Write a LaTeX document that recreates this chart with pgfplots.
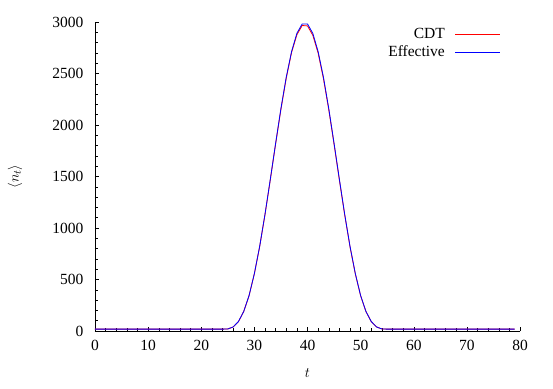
\documentclass[border=0pt]{standalone}
\usepackage{fontspec}
\setmainfont{Liberation Serif}
\usepackage{pgfplots}
\pgfplotsset{compat=1.18}

\begin{document}
\begin{tikzpicture}
\begin{axis}[
    name=ax,
    scale only axis,
    width=425pt, height=309pt,
    xmin=0, xmax=80, ymin=0, ymax=3000,
    axis x line=bottom, axis y line=left,
    axis line style={-, line width=0.6pt},
    xtick={0,10,...,80}, ytick={0,500,...,3000},
    minor x tick num=4, minor y tick num=4,
    tick align=inside,
    tick style={black, line width=0.5pt},
    /pgf/number format/assume math mode=true,
    /pgf/number format/set thousands separator={},
    tick label style={font=\fontsize{15.5}{17}\selectfont},
    yticklabel style={xshift=-8pt},
    xticklabel style={yshift=-6pt},
    label style={font=\fontsize{15.5}{17}\selectfont},
    xlabel={$t$}, ylabel={$\langle n_t\rangle$},
    xlabel style={at={(axis description cs:0.5,-0.136)}, anchor=center},
    ylabel style={at={(axis description cs:-0.188,0.5)}, anchor=center},
    legend style={draw=none, fill=none, at={(axis description cs:0.962,0.992)}, anchor=north east,
        font=\fontsize{15.5}{17}\selectfont, row sep=1.5pt, column sep=8pt},
    legend cell align=right,
    legend plot pos=right,
]
% CDT measurement
\addplot[red, line width=0.8pt,
    legend image code/.code={\draw[red, line width=0.8pt] (0pt,0pt) -- (45pt,0pt);}] coordinates {
(0,18)(1,18)(2,18)(3,18)(4,18)(5,18)(6,18)(7,18)(8,18)(9,18)
(10,18)(11,18)(12,18)(13,18)(14,18)(15,18)(16,18)(17,18)(18,18)(19,18)
(20,18)(21,18)(22,18)(23,18)(24,18)(25,20)(26,39)(27,91)(28,190)(29,343)
(30,556)(31,820)(32,1130)(33,1468)(34,1816)(35,2152)(36,2455)(37,2704)(38,2876)(39,2966)
(40,2962)(41,2871)(42,2698)(43,2450)(44,2149)(45,1812)(46,1465)(47,1127)(48,818)(49,554)
(50,342)(51,189)(52,91)(53,39)(54,20)(55,18)(56,18)(57,18)(58,18)(59,18)
(60,18)(61,18)(62,18)(63,18)(64,18)(65,18)(66,18)(67,18)(68,18)(69,18)
(70,18)(71,18)(72,18)(73,18)(74,18)(75,18)(76,18)(77,18)(78,18)(79,18)
};
\addlegendentry{CDT}
% effective model
\addplot[blue, line width=0.8pt,
    legend image code/.code={\draw[blue, line width=0.8pt] (0pt,0pt) -- (45pt,0pt);}] coordinates {
(0,18)(1,18)(2,18)(3,18)(4,18)(5,18)(6,18)(7,18)(8,18)(9,18)
(10,18)(11,18)(12,18)(13,18)(14,18)(15,18)(16,18)(17,18)(18,18)(19,18)
(20,18)(21,18)(22,18)(23,18)(24,18)(25,20)(26,39)(27,92)(28,190)(29,344)
(30,558)(31,823)(32,1134)(33,1474)(34,1823)(35,2161)(36,2465)(37,2713)(38,2890)(39,2981)
(40,2981)(41,2890)(42,2713)(43,2465)(44,2161)(45,1823)(46,1474)(47,1134)(48,823)(49,558)
(50,344)(51,190)(52,92)(53,39)(54,20)(55,18)(56,18)(57,18)(58,18)(59,18)
(60,18)(61,18)(62,18)(63,18)(64,18)(65,18)(66,18)(67,18)(68,18)(69,18)
(70,18)(71,18)(72,18)(73,18)(74,18)(75,18)(76,18)(77,18)(78,18)(79,18)
};
\addlegendentry{Effective}
\end{axis}
\path ([xshift=-95pt,yshift=-57pt]ax.south west) rectangle ([xshift=33pt,yshift=22pt]ax.north east);
\end{tikzpicture}
\end{document}
